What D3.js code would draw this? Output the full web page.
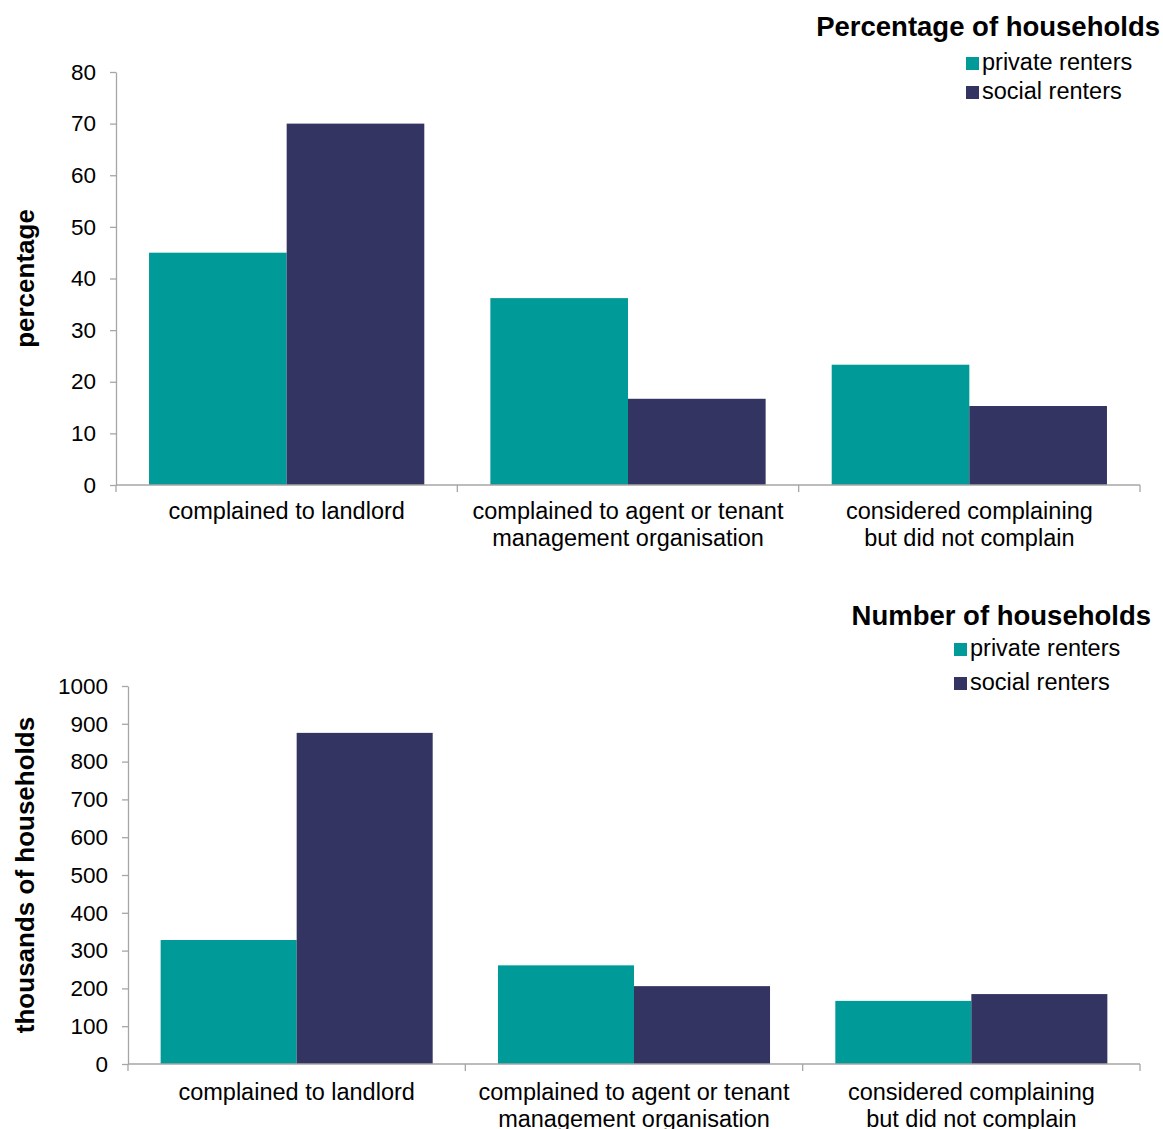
<!DOCTYPE html>
<html>
<head>
<meta charset="utf-8">
<script src="https://cdn.jsdelivr.net/npm/d3@7"></script>
<style>
  body { margin: 0; background: #fff; }
  svg text { font-family: "Liberation Sans", Arial, sans-serif; fill: #000; }
</style>
</head>
<body>
<script>
// categories (label lines) and series
var categories = [
  ["complained to landlord"],
  ["complained to agent or tenant", "management organisation"],
  ["considered complaining", "but did not complain"]
];
var seriesNames = ["private renters", "social renters"];
var seriesColors = ["#009a98", "#343462"];

// percentage of households
var pctPrivate = [45, 36.2, 23.3];
var pctSocial = [70, 16.7, 15.3];
var pctTicks = [0, 10, 20, 30, 40, 50, 60, 70, 80];

// thousands of households
var numPrivate = [328, 261, 167];
var numSocial = [876, 206, 185];
var numTicks = [0, 100, 200, 300, 400, 500, 600, 700, 800, 900, 1000];

var width = 1163,
    height = 1129;

var svg = d3.select("body")
  .append("svg")
  .attr("width", width)
  .attr("height", height);

drawChart({
  top: 72, bottom: 485, left: 116, right: 1140,
  values: [pctPrivate, pctSocial],
  ticks: pctTicks,
  yTitle: "percentage",
  title: "Percentage of households",
  titleRight: 1160, titleY: 36,
  legendX: 966, legendY: [57, 86],
  catY: 519
});

drawChart({
  top: 686, bottom: 1064, left: 128, right: 1140,
  values: [numPrivate, numSocial],
  ticks: numTicks,
  yTitle: "thousands of households",
  title: "Number of households",
  titleRight: 1151, titleY: 625,
  legendX: 954, legendY: [643, 677],
  catY: 1100
});

function drawChart(c){

  var g = svg.append("g");

  var x0 = d3.scaleBand()
    .domain(d3.range(categories.length))
    .range([c.left, c.right])
    .paddingInner(0)
    .paddingOuter(0);

  var x1 = d3.scaleBand()
    .domain(d3.range(seriesNames.length))
    .range([0, x0.bandwidth()])
    .paddingInner(0)
    .paddingOuter(0.24);

  var y = d3.scaleLinear()
    .domain([0, d3.max(c.ticks)])
    .range([c.bottom, c.top]);

  // bars
  c.values.forEach(function(vals, s){
    g.selectAll(".bar" + s)
      .data(vals)
      .enter()
      .append("rect")
      .attr("x", function(d, i){ return x0(i) + x1(s); })
      .attr("y", function(d){ return y(d); })
      .attr("width", x1.bandwidth())
      .attr("height", function(d){ return y(0) - y(d); })
      .attr("fill", seriesColors[s]);
  });

  // y axis
  var yAxis = g.append("g")
    .attr("transform", "translate(" + c.left + ",0)")
    .call(d3.axisLeft(y).tickValues(c.ticks).tickFormat(d3.format("d"))
      .tickSize(6).tickSizeOuter(0).tickPadding(14));
  yAxis.select(".domain").attr("stroke", "#a6a6a6").attr("stroke-width", 1.3);
  yAxis.selectAll(".tick line").attr("stroke", "#a6a6a6").attr("stroke-width", 1.3);
  yAxis.selectAll(".tick text")
    .style("font-size", "22.5px")
    .attr("fill", "#000");

  // x axis line with ticks at the category boundaries
  g.append("line")
    .attr("x1", c.left).attr("x2", c.right)
    .attr("y1", c.bottom).attr("y2", c.bottom)
    .attr("stroke", "#a6a6a6").attr("stroke-width", 1.3);

  var bounds = d3.range(categories.length).map(function(i){ return x0(i); }).concat([c.right]);
  g.selectAll(".xtick")
    .data(bounds)
    .enter()
    .append("line")
    .attr("x1", function(d){ return d; })
    .attr("x2", function(d){ return d; })
    .attr("y1", c.bottom)
    .attr("y2", c.bottom + 7)
    .attr("stroke", "#a6a6a6").attr("stroke-width", 1.3);

  // category labels
  categories.forEach(function(lines, i){
    var t = g.append("text")
      .attr("text-anchor", "middle")
      .style("font-size", "23.5px");
    lines.forEach(function(line, k){
      t.append("tspan")
        .attr("x", x0(i) + x0.bandwidth() / 2)
        .attr("y", c.catY + k * 27)
        .text(line);
    });
  });

  // y title
  g.append("text")
    .attr("transform", "translate(34," + ((c.top + c.bottom) / 2) + ") rotate(-90)")
    .attr("text-anchor", "middle")
    .style("font-size", "26px")
    .style("font-weight", "bold")
    .text(c.yTitle);

  // chart title
  g.append("text")
    .attr("x", c.titleRight)
    .attr("y", c.titleY)
    .attr("text-anchor", "end")
    .style("font-size", "27.5px")
    .style("font-weight", "bold")
    .text(c.title);

  // legend
  seriesNames.forEach(function(name, s){
    g.append("rect")
      .attr("x", c.legendX)
      .attr("y", c.legendY[s])
      .attr("width", 13)
      .attr("height", 13)
      .attr("fill", seriesColors[s]);
    g.append("text")
      .attr("x", c.legendX + 16)
      .attr("y", c.legendY[s] + 13)
      .style("font-size", "23.5px")
      .text(name);
  });
};
</script>
</body>
</html>
